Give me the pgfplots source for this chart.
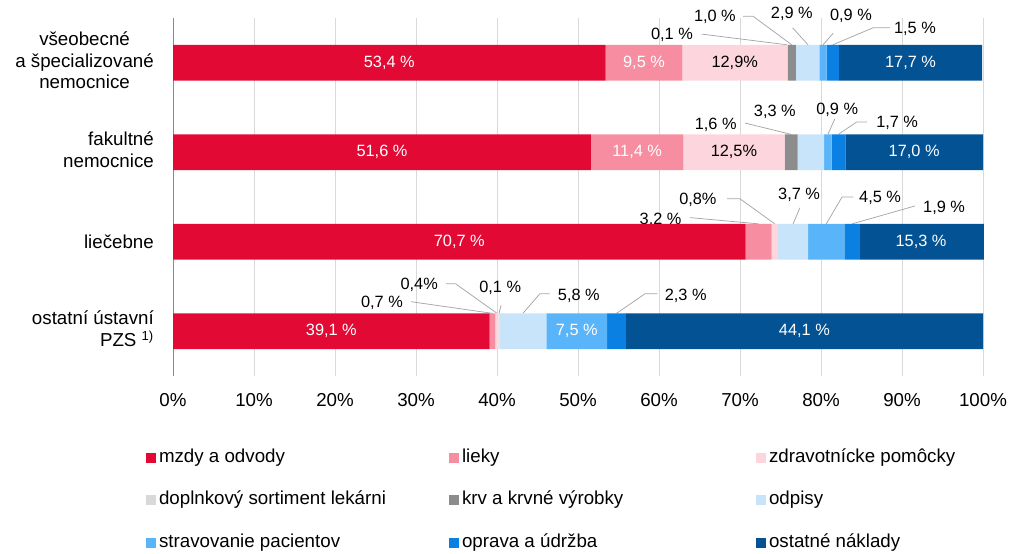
\documentclass[border=0pt]{standalone}
\usepackage{fontspec}
\setmainfont{Liberation Sans}
\usepackage{pgfplots}
\pgfplotsset{compat=1.18}
\definecolor{cMzdy}{HTML}{E20A34}
\definecolor{cLieky}{HTML}{F78DA0}
\definecolor{cZdrav}{HTML}{FCD5DD}
\definecolor{cDopl}{HTML}{D9D9D9}
\definecolor{cKrv}{HTML}{8C8C8C}
\definecolor{cOdp}{HTML}{C8E4FB}
\definecolor{cStrav}{HTML}{5AB4FA}
\definecolor{cOpr}{HTML}{0A80E2}
\definecolor{cOst}{HTML}{035394}
\definecolor{cGrid}{HTML}{D9D9D9}
\definecolor{cLead}{HTML}{A6A6A6}
\definecolor{cAxis}{HTML}{8A8A8A}
\newcommand{\lab}{\fontsize{16.4}{19}\selectfont}
\newcommand{\bigf}{\fontsize{18.8}{21.5}\selectfont}
\tikzset{lead/.style={draw=cLead, line width=0.75bp},
  ol/.style={font=\lab, text=black, inner sep=0pt},
  il/.style={font=\lab, text=white, inner sep=0pt}}
\begin{document}
\begin{tikzpicture}
\path[use as bounding box] (0,0) rectangle (1013bp,554bp);
\begin{axis}[
  at={(173bp,178bp)}, anchor=south west,
  scale only axis, width=810bp, height=358bp,
  xbar stacked, bar width=0.4,
  xmin=0, xmax=100, ymin=-0.5, ymax=3.5, y dir=reverse,
  clip=false,
  xtick={0,10,20,30,40,50,60,70,80,90,100},
  xticklabels={0\%,10\%,20\%,30\%,40\%,50\%,60\%,70\%,80\%,90\%,100\%},
  ytick={0,1,2,3},
  yticklabels={
    {\begin{tabular}{@{}c@{}}všeobecné\\a špecializované\\nemocnice\end{tabular}},
    {\begin{tabular}{@{}r@{}}fakultné\\nemocnice\end{tabular}},
    {liečebne},
    {\begin{tabular}{@{}r@{}}ostatní ústavní\\PZS \textsuperscript{1)}\end{tabular}}},
  xmajorgrids, grid style={cGrid, line width=0.75bp},
  axis lines*=left,
  x axis line style={draw=none},
  y axis line style={draw=cAxis, line width=0.75bp},
  tick style={draw=none}, major tick length=0pt,
  every tick label/.append style={font=\bigf, text=black, inner sep=0pt},
  xticklabel style={anchor=north, yshift=-17.5bp},
  yticklabel style={anchor=east, xshift=-19bp},
  legend columns=3,
  legend cell align=left,
  legend style={at={(axis description cs:-0.0333,-0.3464)}, anchor=west,
    draw=none, fill=none, inner sep=0pt, outer sep=0pt, row sep=25.5bp,
    nodes={inner sep=0pt, text height=13bp, text depth=4bp, font=\bigf, text=black},
    /tikz/every odd column/.append style={column sep=3bp}},
  legend image code/.code={\fill[#1] (0bp,-5bp) rectangle (10bp,5bp);},
]
\addplot[fill=cMzdy, draw=none] coordinates {(53.4,0) (51.6,1) (70.7,2) (39.1,3)};
\addplot[fill=cLieky, draw=none] coordinates {(9.5,0) (11.4,1) (3.2,2) (0.7,3)};
\addplot[fill=cZdrav, draw=none] coordinates {(12.9,0) (12.5,1) (0.8,2) (0.4,3)};
\addplot[fill=cDopl, draw=none] coordinates {(0.1,0) (0,1) (0,2) (0.1,3)};
\addplot[fill=cKrv, draw=none] coordinates {(1.0,0) (1.6,1) (0,2) (0,3)};
\addplot[fill=cOdp, draw=none] coordinates {(2.9,0) (3.3,1) (3.7,2) (5.8,3)};
\addplot[fill=cStrav, draw=none] coordinates {(0.9,0) (0.9,1) (4.5,2) (7.5,3)};
\addplot[fill=cOpr, draw=none] coordinates {(1.5,0) (1.7,1) (1.9,2) (2.3,3)};
\addplot[fill=cOst, draw=none] coordinates {(17.7,0) (17.0,1) (15.3,2) (44.1,3)};
\addlegendentry{\makebox[290bp][l]{mzdy a odvody}}
\addlegendentry{\makebox[294bp][l]{lieky}}
\addlegendentry{zdravotnícke pomôcky}
\addlegendentry{\makebox[290bp][l]{doplnkový sortiment lekárni}}
\addlegendentry{\makebox[294bp][l]{krv a krvné výrobky}}
\addlegendentry{odpisy}
\addlegendentry{\makebox[290bp][l]{stravovanie pacientov}}
\addlegendentry{\makebox[294bp][l]{oprava a údržba}}
\addlegendentry{ostatné náklady}
% anchor points for inside labels (drawn after the axis, above the bars)
\coordinate (i1) at (axis cs:26.7,0);
\coordinate (i2) at (axis cs:58.15,0);
\coordinate (i3) at (axis cs:69.35,0);
\coordinate (i4) at (axis cs:91.05,0);
\coordinate (i5) at (axis cs:25.8,1);
\coordinate (i6) at (axis cs:57.3,1);
\coordinate (i7) at (axis cs:69.25,1);
\coordinate (i8) at (axis cs:91.5,1);
\coordinate (i9) at (axis cs:35.35,2);
\coordinate (i10) at (axis cs:92.35,2);
\coordinate (i11) at (axis cs:19.55,3);
\coordinate (i12) at (axis cs:49.85,3);
\coordinate (i13) at (axis cs:77.95,3);
% row 1 outside
\node[ol] at (axis cs:61.6,-0.31) {0,1 \%};
\draw[lead] (axis cs:65.3,-0.32) -- (axis cs:75.85,-0.2);
\node[ol] at (axis cs:66.9,-0.51) {1,0 \%};
\draw[lead] (axis cs:70.4,-0.52) -- (axis cs:71.6,-0.52) -- (axis cs:76.4,-0.2);
\node[ol] at (axis cs:76.4,-0.545) {2,9 \%};
\draw[lead] (axis cs:76.5,-0.39) -- (axis cs:78.4,-0.2);
\node[ol] at (axis cs:83.7,-0.52) {0,9 \%};
\draw[lead] (axis cs:81.5,-0.33) -- (axis cs:80.25,-0.2);
\node[ol] at (axis cs:91.6,-0.377) {1,5 \%};
\draw[lead] (axis cs:88.5,-0.39) -- (axis cs:86.4,-0.39) -- (axis cs:81.45,-0.2);
% row 2 outside
\node[ol] at (axis cs:67.0,0.696) {1,6 \%};
\draw[lead] (axis cs:70.6,0.673) -- (axis cs:76.3,0.8);
\node[ol] at (axis cs:74.3,0.55) {3,3 \%};
\node[ol] at (axis cs:82.0,0.528) {0,9 \%};
\draw[lead] (axis cs:81.7,0.628) -- (axis cs:80.85,0.8);
\node[ol] at (axis cs:89.4,0.673) {1,7 \%};
\draw[lead] (axis cs:85.7,0.662) -- (axis cs:84.4,0.662) -- (axis cs:82.15,0.8);
% row 3 outside
\node[ol] at (axis cs:60.2,1.757) {3,2 \%};
\draw[lead] (axis cs:63.8,1.73) -- (axis cs:72.3,1.8);
\node[ol] at (axis cs:64.8,1.53) {0,8\%};
\draw[lead] (axis cs:68.4,1.52) -- (axis cs:70.0,1.52) -- (axis cs:74.3,1.8);
\node[ol] at (axis cs:77.3,1.48) {3,7 \%};
\draw[lead] (axis cs:77.4,1.62) -- (axis cs:76.55,1.8);
\node[ol] at (axis cs:87.3,1.51) {4,5 \%};
\draw[lead] (axis cs:84.0,1.5) -- (axis cs:82.6,1.5) -- (axis cs:80.65,1.8);
\node[ol] at (axis cs:95.2,1.62) {1,9 \%};
\draw[lead] (axis cs:91.6,1.60) -- (axis cs:83.85,1.8);
% row 4 outside
\node[ol] at (axis cs:25.8,2.68) {0,7 \%};
\draw[lead] (axis cs:29.4,2.67) -- (axis cs:39.45,2.8);
\node[ol] at (axis cs:30.4,2.48) {0,4\%};
\draw[lead] (axis cs:33.7,2.47) -- (axis cs:34.9,2.47) -- (axis cs:40.0,2.8);
\node[ol] at (axis cs:40.4,2.52) {0,1 \%};
\draw[lead] (axis cs:40.5,2.71) -- (axis cs:40.25,2.8);
\node[ol] at (axis cs:50.1,2.6) {5,8 \%};
\draw[lead] (axis cs:46.5,2.58) -- (axis cs:45.3,2.58) -- (axis cs:43.2,2.8);
\node[ol] at (axis cs:63.3,2.6) {2,3 \%};
\draw[lead] (axis cs:59.8,2.58) -- (axis cs:58.3,2.58) -- (axis cs:54.75,2.8);
\end{axis}
\node[il] at (i1) {53,4 \%};
\node[il] at (i2) {9,5 \%};
\node[ol] at (i3) {12,9\%};
\node[il] at (i4) {17,7 \%};
\node[il] at (i5) {51,6 \%};
\node[il] at (i6) {11,4 \%};
\node[ol] at (i7) {12,5\%};
\node[il] at (i8) {17,0 \%};
\node[il] at (i9) {70,7 \%};
\node[il] at (i10) {15,3 \%};
\node[il] at (i11) {39,1 \%};
\node[il] at (i12) {7,5 \%};
\node[il] at (i13) {44,1 \%};
\end{tikzpicture}
\end{document}
